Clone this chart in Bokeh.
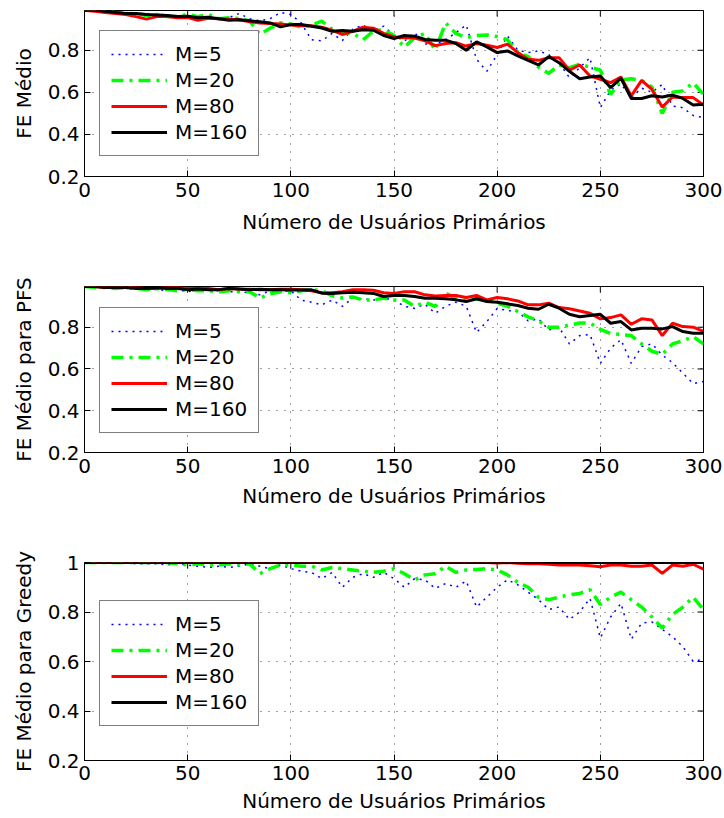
import math
from bokeh.plotting import figure
from bokeh.models import Range1d, FixedTicker, Legend, LegendItem
from bokeh.layouts import column
from bokeh.embed import file_html
from bokeh.resources import INLINE

FONT = "DejaVu Sans"
FS = "20px"

# number of primary users (x axis samples)
users = [0, 5, 10, 15, 20, 25, 30, 35, 40, 45, 50, 55, 60, 65, 70, 75, 80, 85, 90, 95,
         100, 105, 110, 115, 120, 125, 130, 135, 140, 145, 150, 155, 160, 165, 170, 175,
         180, 185, 190, 195, 200, 205, 210, 215, 220, 225, 230, 235, 240, 245, 250, 255,
         260, 265, 270, 275, 280, 285, 290, 295, 300]

x_ticks = [0, 50, 100, 150, 200, 250, 300]
y_ticks_12 = [0.2, 0.4, 0.6, 0.8]
y_ticks_3 = [0.2, 0.4, 0.6, 0.8, 1.0]
labels = ["M=5", "M=20", "M=80", "M=160"]

# ---------- Panel 1: FE Médio ----------
fe_m5 = [0.99, 0.99, 0.985, 0.985, 0.98, 0.975, 0.975, 0.97, 0.97, 0.96,
         0.965, 0.955, 0.96, 0.955, 0.955, 0.975, 0.95, 0.94, 0.95, 0.98,
         0.97, 0.93, 0.85, 0.845, 0.88, 0.846, 0.9, 0.92, 0.89, 0.915,
         0.87, 0.843, 0.883, 0.83, 0.827, 0.85, 0.883, 0.92, 0.757, 0.70,
         0.78, 0.868, 0.8, 0.789, 0.797, 0.78, 0.74, 0.67, 0.717, 0.765,
         0.527, 0.61, 0.64, 0.575, 0.62, 0.6, 0.638, 0.535, 0.527, 0.49, 0.48]
fe_m20 = [0.99, 0.99, 0.985, 0.98, 0.975, 0.975, 0.965, 0.97, 0.96, 0.96,
          0.97, 0.96, 0.97, 0.95, 0.955, 0.95, 0.94, 0.876, 0.905, 0.93,
          0.925, 0.91, 0.92, 0.938, 0.9, 0.885, 0.88, 0.85, 0.89, 0.898,
          0.87, 0.815, 0.86, 0.88, 0.80, 0.93, 0.88, 0.86, 0.87, 0.873,
          0.865, 0.85, 0.79, 0.77, 0.72, 0.69, 0.73, 0.717, 0.733, 0.72,
          0.705, 0.59, 0.66, 0.665, 0.655, 0.625, 0.50, 0.60, 0.607, 0.645, 0.59]
fe_m80 = [0.99, 0.985, 0.98, 0.975, 0.97, 0.96, 0.948, 0.96, 0.96, 0.955,
          0.955, 0.943, 0.952, 0.95, 0.948, 0.945, 0.935, 0.93, 0.927, 0.925,
          0.92, 0.917, 0.917, 0.91, 0.895, 0.875, 0.89, 0.91, 0.905, 0.88,
          0.863, 0.86, 0.858, 0.845, 0.822, 0.832, 0.836, 0.82, 0.832, 0.824,
          0.813, 0.829, 0.789, 0.757, 0.752, 0.765, 0.765, 0.705, 0.73, 0.678,
          0.662, 0.646, 0.673, 0.583, 0.657, 0.614, 0.53, 0.578, 0.575, 0.575, 0.54]
fe_m160 = [0.99, 0.99, 0.985, 0.98, 0.975, 0.975, 0.97, 0.968, 0.965, 0.96,
           0.962, 0.955, 0.957, 0.95, 0.943, 0.945, 0.94, 0.935, 0.93, 0.911,
           0.922, 0.922, 0.914, 0.906, 0.89, 0.894, 0.89, 0.898, 0.895, 0.87,
           0.856, 0.87, 0.867, 0.851, 0.848, 0.848, 0.832, 0.80, 0.84, 0.816,
           0.789, 0.797, 0.773, 0.752, 0.73, 0.77, 0.741, 0.70, 0.665, 0.673,
           0.678, 0.622, 0.667, 0.571, 0.571, 0.584, 0.578, 0.587, 0.571, 0.54, 0.543]

# ---------- Panel 2: FE Médio para PFS ----------
pfs_m5 = [0.995, 0.995, 0.99, 0.99, 0.985, 0.99, 0.985, 0.98, 0.975, 0.98,
          0.97, 0.98, 0.975, 0.975, 0.97, 0.97, 0.965, 0.955, 0.975, 0.97,
          0.975, 0.93, 0.92, 0.907, 0.93, 0.9, 0.94, 0.935, 0.93, 0.94,
          0.93, 0.9, 0.89, 0.91, 0.867, 0.9, 0.92, 0.9, 0.775, 0.827,
          0.89, 0.88, 0.875, 0.83, 0.84, 0.787, 0.8, 0.72, 0.76, 0.765,
          0.627, 0.7, 0.74, 0.627, 0.707, 0.72, 0.667, 0.63, 0.58, 0.53, 0.54]
pfs_m20 = [0.995, 0.99, 0.99, 0.985, 0.99, 0.985, 0.98, 0.985, 0.98, 0.975,
           0.98, 0.975, 0.975, 0.97, 0.975, 0.97, 0.97, 0.94, 0.96, 0.97,
           0.965, 0.975, 0.98, 0.975, 0.95, 0.94, 0.945, 0.93, 0.93, 0.94,
           0.93, 0.93, 0.9, 0.92, 0.9, 0.963, 0.94, 0.93, 0.935, 0.93,
           0.915, 0.9, 0.875, 0.85, 0.83, 0.8, 0.8, 0.81, 0.82, 0.82,
           0.79, 0.77, 0.765, 0.76, 0.72, 0.685, 0.67, 0.72, 0.735, 0.755, 0.72]
pfs_m80 = [0.995, 0.995, 0.99, 0.99, 0.99, 0.99, 0.985, 0.985, 0.99, 0.99,
           0.985, 0.985, 0.985, 0.98, 0.985, 0.983, 0.982, 0.98, 0.98, 0.982,
           0.982, 0.98, 0.975, 0.965, 0.965, 0.97, 0.98, 0.98, 0.977, 0.965,
           0.962, 0.97, 0.97, 0.955, 0.95, 0.952, 0.952, 0.942, 0.952, 0.931,
           0.942, 0.936, 0.926, 0.907, 0.907, 0.915, 0.894, 0.888, 0.878, 0.867,
           0.84, 0.846, 0.859, 0.814, 0.84, 0.835, 0.76, 0.819, 0.803, 0.80, 0.78]
pfs_m160 = [0.995, 0.995, 0.99, 0.99, 0.99, 0.985, 0.985, 0.99, 0.985, 0.985,
            0.98, 0.983, 0.98, 0.98, 0.985, 0.983, 0.98, 0.982, 0.98, 0.98,
            0.978, 0.978, 0.979, 0.963, 0.962, 0.965, 0.967, 0.965, 0.962, 0.947,
            0.952, 0.952, 0.947, 0.939, 0.939, 0.936, 0.931, 0.923, 0.936, 0.923,
            0.92, 0.912, 0.904, 0.891, 0.886, 0.91, 0.891, 0.862, 0.85, 0.856,
            0.862, 0.819, 0.827, 0.787, 0.795, 0.795, 0.792, 0.803, 0.779, 0.771, 0.771]

# ---------- Panel 3: FE Médio para Greedy ----------
gr_m5 = [1.0, 1.0, 1.0, 1.0, 1.0, 0.995, 0.995, 0.995, 0.99, 0.995,
         0.99, 0.985, 0.98, 0.985, 0.98, 0.985, 0.995, 0.985, 0.975, 0.99,
         0.975, 0.965, 0.96, 0.935, 0.96, 0.9, 0.94, 0.955, 0.94, 0.96,
         0.935, 0.9, 0.935, 0.93, 0.895, 0.915, 0.9, 0.925, 0.82, 0.86,
         0.9, 0.93, 0.91, 0.88, 0.85, 0.81, 0.82, 0.77, 0.8, 0.855,
         0.695, 0.78, 0.835, 0.69, 0.755, 0.76, 0.73, 0.7, 0.66, 0.6, 0.61]
gr_m20 = [1.0, 1.0, 1.0, 1.0, 1.0, 1.0, 1.0, 1.0, 1.0, 0.995,
          0.99, 0.995, 0.99, 0.99, 0.995, 0.99, 0.995, 0.955, 0.975, 0.99,
          0.99, 0.985, 0.985, 0.97, 0.98, 0.975, 0.97, 0.965, 0.96, 0.965,
          0.975, 0.955, 0.93, 0.95, 0.955, 0.985, 0.96, 0.97, 0.972, 0.975,
          0.97, 0.95, 0.92, 0.9, 0.86, 0.85, 0.86, 0.87, 0.875, 0.89,
          0.83, 0.86, 0.88, 0.85, 0.82, 0.78, 0.735, 0.79, 0.82, 0.86, 0.81]
gr_m80 = [1.0, 1.0, 1.0, 1.0, 1.0, 1.0, 1.0, 1.0, 1.0, 1.0,
          1.0, 1.0, 1.0, 1.0, 1.0, 1.0, 1.0, 1.0, 1.0, 1.0,
          1.0, 1.0, 1.0, 1.0, 1.0, 1.0, 1.0, 1.0, 1.0, 1.0,
          1.0, 1.0, 1.0, 1.0, 1.0, 1.0, 1.0, 1.0, 1.0, 1.0,
          0.998, 1.0, 0.997, 0.995, 0.995, 0.993, 0.99, 0.99, 0.99, 0.987,
          0.983, 0.99, 0.99, 0.985, 0.985, 0.99, 0.956, 0.99, 0.985, 0.993, 0.973]
gr_m160 = [1.0, 1.0, 1.0, 1.0, 1.0, 1.0, 1.0, 1.0, 1.0, 1.0,
           1.0, 1.0, 1.0, 1.0, 1.0, 1.0, 1.0, 1.0, 1.0, 1.0,
           1.0, 1.0, 1.0, 1.0, 1.0, 1.0, 1.0, 1.0, 1.0, 1.0,
           1.0, 1.0, 1.0, 1.0, 1.0, 1.0, 1.0, 1.0, 1.0, 1.0,
           1.0, 1.0, 1.0, 1.0, 1.0, 1.0, 1.0, 1.0, 1.0, 1.0,
           1.0, 1.0, 1.0, 1.0, 1.0, 1.0, 1.0, 1.0, 1.0, 1.0, 1.0]

XLABEL = "Número de Usuários Primários"


def style_axis(ax, ticks):
    ax.ticker = FixedTicker(ticks=ticks)
    ax.axis_line_color = "black"
    ax.axis_line_width = 1
    ax.major_tick_in = 6
    ax.major_tick_out = 0
    ax.major_tick_line_color = "black"
    ax.minor_tick_line_color = None
    ax.major_label_text_font = FONT
    ax.major_label_text_font_size = FS
    ax.major_label_text_color = "black"
    ax.axis_label_text_font = FONT
    ax.axis_label_text_font_size = FS
    ax.axis_label_text_font_style = "normal"
    ax.axis_label_text_color = "black"


def make_panel(ylabel, ymax, yticks, m5, m20, m80, m160, height, btop, bbot,
               leg_y, tick_standoff, xlab_standoff):
    p = figure(width=724, height=height, output_backend="svg", toolbar_location=None,
               x_range=Range1d(0, 300), y_range=Range1d(0.2, ymax),
               min_border_left=84, min_border_right=21,
               min_border_top=btop, min_border_bottom=bbot)
    p.background_fill_color = "white"
    p.border_fill_color = "white"
    p.outline_line_color = "black"
    p.outline_line_width = 1
    p.outline_line_alpha = 1

    style_axis(p.xaxis[0], x_ticks)
    style_axis(p.yaxis[0], yticks)
    p.xaxis.axis_label = XLABEL
    p.yaxis.axis_label = ylabel
    p.xaxis.major_label_standoff = tick_standoff
    p.xaxis.axis_label_standoff = xlab_standoff
    p.yaxis.major_label_standoff = 5
    p.yaxis.axis_label_standoff = 9
    if 1.0 in yticks:
        p.yaxis.major_label_overrides = {1: "1"}

    for g in (p.xgrid[0], p.ygrid[0]):
        g.grid_line_color = "black"
        g.grid_line_alpha = 0.75
        g.grid_line_width = 1
        g.grid_line_dash = "1 7"

    # inward tick marks on the top and right edges of the box (clipped to frame)
    p.scatter(x_ticks, [ymax] * len(x_ticks), marker="dash", angle=math.pi / 2,
              size=12, line_color="black", line_width=1)
    p.scatter([300] * len(yticks), yticks, marker="dash", angle=0,
              size=12, line_color="black", line_width=1)

    r5 = p.line(users, m5, line_color="#0000ff", line_width=1.5, line_dash="2 5")
    r20 = p.line(users, m20, line_color="#00ff00", line_width=3.5, line_dash="12 6 3 6")
    r80 = p.line(users, m80, line_color="#ff0000", line_width=3)
    r160 = p.line(users, m160, line_color="#000000", line_width=3)

    leg = Legend(items=[LegendItem(label=labels[0], renderers=[r5]),
                        LegendItem(label=labels[1], renderers=[r20]),
                        LegendItem(label=labels[2], renderers=[r80]),
                        LegendItem(label=labels[3], renderers=[r160])],
                 location=(15, leg_y))
    leg.margin = 0
    leg.padding = 11
    leg.spacing = 2
    leg.glyph_width = 56
    leg.glyph_height = 24
    leg.label_height = 24
    leg.label_standoff = 8
    leg.label_text_font = FONT
    leg.label_text_font_size = FS
    leg.label_text_color = "black"
    leg.border_line_color = "black"
    leg.border_line_width = 1
    leg.background_fill_color = "white"
    leg.background_fill_alpha = 1
    p.add_layout(leg)
    return p


p1 = make_panel("FE Médio", 0.989, y_ticks_12, fe_m5, fe_m20, fe_m80, fe_m160,
                height=245, btop=10, bbot=69, leg_y=20, tick_standoff=6, xlab_standoff=10)
p2 = make_panel("FE Médio para PFS", 0.995, y_ticks_12, pfs_m5, pfs_m20, pfs_m80, pfs_m160,
                height=285, btop=41, bbot=78, leg_y=19, tick_standoff=6, xlab_standoff=8)
p3 = make_panel("FE Médio para Greedy", 1.0, y_ticks_3, gr_m5, gr_m20, gr_m80, gr_m160,
                height=288, btop=32, bbot=58, leg_y=34, tick_standoff=5, xlab_standoff=6)

layout = column(p1, p2, p3, spacing=0)
open("out.html", "w").write(file_html(layout, INLINE))
